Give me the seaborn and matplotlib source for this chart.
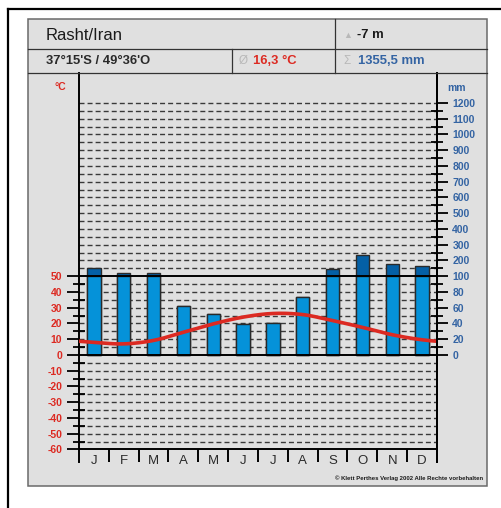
import numpy as np
import pandas as pd
import matplotlib
matplotlib.use("Agg")
import matplotlib.pyplot as plt
import seaborn as sns
from matplotlib.patches import Rectangle
from matplotlib.lines import Line2D

# ---------------- data ----------------
months = ["J", "F", "M", "A", "M", "J", "J", "A", "S", "O", "N", "D"]
temperature = [8.0, 7.0, 9.2, 14.4, 19.7, 24.0, 26.3, 25.6, 21.8, 17.5, 12.8, 9.6]
precipitation = [150, 122, 117, 62, 52, 39, 41, 74, 147, 233, 175, 166]
temp_ticks = [-60, -50, -40, -30, -20, -10, 0, 10, 20, 30, 40, 50]
precip_ticks = [0, 20, 40, 60, 80, 100, 200, 300, 400, 500, 600, 700, 800,
                900, 1000, 1100, 1200]
station = "Rasht/Iran"
coords = "37°15'S / 49°36'O"
elevation = "-7 m"
mean_temp = "16,3 °C"
total_precip = "1355,5 mm"
copyright_text = "© Klett Perthes Verlag 2002 Alle Rechte vorbehalten"

# ---------------- style ----------------
RED = "#dc2a22"
BLUE_TXT = "#3464a3"
LIGHT_BAR = "#0592d9"
DARK_BAR = "#0460a6"
EDGE = "#2a2a2a"
PANEL = "#e0e0e0"
plt.rcParams["font.family"] = ["Liberation Sans", "DejaVu Sans"]

W, H = 502, 508
fig = plt.figure(figsize=(W / 100, H / 100), dpi=100)
fig.patch.set_facecolor("white")


def fx(x):
    return x / W


def fy(y):
    return 1 - y / H


def fline(x0, y0, x1, y1, color="#333333", lw=1.0):
    fig.add_artist(Line2D([fx(x0), fx(x1)], [fy(y0), fy(y1)],
                          transform=fig.transFigure, color=color, lw=lw, zorder=3))


# grey panel (behind the axes)
fig.add_artist(Rectangle((fx(28), fy(486)), (487 - 28) / W, (486 - 19) / H,
                         transform=fig.transFigure, facecolor=PANEL,
                         edgecolor="#6a6a6a", lw=1.1, zorder=-10))
# outer frame
fline(8, 9, 8, 508, color="black", lw=1.6)
fline(8, 9, 502, 9, color="black", lw=1.6)
# header grid
fline(28, 49, 487, 49, lw=0.9)
fline(28, 73, 487, 73, lw=0.9)
fline(335, 19, 335, 73, lw=0.9)
fline(232, 49, 232, 73, lw=0.9)

# header texts
fig.text(fx(46), fy(35), station, fontsize=12, va="center", ha="left", color="#1a1a1a")
fig.text(fx(343), fy(35), "▲", fontsize=6.5, va="center", ha="left", color="#b8b8b8")
fig.text(fx(357), fy(35), elevation, fontsize=9.4, fontweight="bold", va="center",
         ha="left", color="#1a1a1a")
fig.text(fx(46), fy(60.5), coords, fontsize=9.4, fontweight="bold", va="center",
         ha="left", color="#2a2a2a")
fig.text(fx(239), fy(60.5), "Ø", fontsize=8.5, va="center", ha="left", color="#b8b8b8")
fig.text(fx(253), fy(60.5), mean_temp, fontsize=9.4, fontweight="bold", va="center",
         ha="left", color=RED)
fig.text(fx(343), fy(60.5), "Σ", fontsize=8.5, va="center", ha="left", color="#b8b8b8")
fig.text(fx(358), fy(60.5), total_precip, fontsize=9.4, fontweight="bold", va="center",
         ha="left", color=BLUE_TXT)
fig.text(fx(60), fy(87), "°C", fontsize=7.5, fontweight="bold", va="center",
         ha="center", color=RED)
fig.text(fx(457), fy(88), "mm", fontsize=7.5, fontweight="bold", va="center",
         ha="center", color=BLUE_TXT)
fig.text(fx(483), fy(478), copyright_text, fontsize=4.3, fontweight="bold",
         va="center", ha="right", color="#1a1a1a")


# ---------------- axes ----------------
def mm_to_unit(p):
    p = np.asarray(p, dtype=float)
    return np.where(p <= 100, p / 2.0, 50 + (p - 100) / 10.0)


YMIN, YMAX = -68, 179
ax = fig.add_axes([fx(79), fy(462), (437 - 79) / W, (462 - 73) / H])
ax.set_facecolor("none")

df = pd.DataFrame({
    "idx": np.arange(12),
    "month": months,
    "precip": precipitation,
})
df["unit"] = mm_to_unit(df["precip"])
df["unit_low"] = np.minimum(df["unit"], 50)

# dashed grid
for v in range(-55, 161, 5):
    if v in (0, 50):
        continue
    ax.axhline(v, color="#3a3a3a", lw=1.0, ls=(0, (3.6, 2.2)), zorder=1)

sns.barplot(data=df, x="idx", y="unit", color=DARK_BAR, saturation=1,
            edgecolor=EDGE, linewidth=1.0, width=0.45, ax=ax, zorder=3)
sns.barplot(data=df, x="idx", y="unit_low", color=LIGHT_BAR, saturation=1,
            edgecolor=EDGE, linewidth=1.0, width=0.45, ax=ax, zorder=3.5)

for v in (0, 50, -60):
    ax.axhline(v, color="black", lw=1.4, zorder=4)

# smooth periodic temperature curve (Catmull-Rom through monthly values)
t = np.asarray(temperature, dtype=float)
xs_all, ys_all = [], []
for i in range(-1, 12):
    p0, p1, p2, p3 = t[(i - 1) % 12], t[i % 12], t[(i + 1) % 12], t[(i + 2) % 12]
    s = np.linspace(0, 1, 25)
    yv = 0.5 * ((2 * p1) + (-p0 + p2) * s + (2 * p0 - 5 * p1 + 4 * p2 - p3) * s ** 2
                + (-p0 + 3 * p1 - 3 * p2 + p3) * s ** 3)
    xs_all.append(i + s)
    ys_all.append(yv)
xs = np.concatenate(xs_all)
ys = np.concatenate(ys_all)
mask = (xs >= -0.5) & (xs <= 11.5)
curve = pd.DataFrame({"x": xs[mask], "y": ys[mask]}).drop_duplicates("x")
sns.lineplot(data=curve, x="x", y="y", color=RED, lw=2.6, ax=ax, zorder=5,
             sort=False, estimator=None)

# month separators and labels
ax.vlines(np.arange(0.5, 11.5, 1), -68, -60, color="black", lw=1.4, zorder=4)
for i, m in enumerate(months):
    ax.text(i, -67.3, m, ha="center", va="center", fontsize=9.5, color="#2a2a2a",
            clip_on=False)

ax.set_xlim(-0.5, 11.5)
ax.set_ylim(YMIN, YMAX)
ax.set_xticks([])
ax.set_xlabel("")
ax.set_ylabel("")
for s in ("top", "bottom"):
    ax.spines[s].set_visible(False)
for s in ("left", "right"):
    ax.spines[s].set_color("black")
    ax.spines[s].set_linewidth(1.4)

ax.set_yticks(temp_ticks)
ax.set_yticklabels([str(v) for v in temp_ticks])
ax.set_yticks(np.arange(-55, 50, 10), minor=True)
ax.tick_params(axis="y", which="major", direction="out", length=9, width=1.3,
               colors="black", labelcolor=RED, labelsize=7.5, pad=3)
ax.tick_params(axis="y", which="minor", direction="inout", length=9, width=1.3,
               colors="black")
for lab in ax.get_yticklabels():
    lab.set_fontweight("bold")

ax2 = ax.twinx()
ax2.set_ylim(YMIN, YMAX)
ax2.set_yticks(mm_to_unit(precip_ticks))
ax2.set_yticklabels([str(v) for v in precip_ticks])
minor_mm = [10, 30, 50, 70, 90, 150, 250, 350, 450, 550, 650, 750, 850, 950, 1050, 1150]
ax2.set_yticks(mm_to_unit(minor_mm), minor=True)
ax2.tick_params(axis="y", which="major", direction="out", length=8, width=1.3,
                colors="black", labelcolor=BLUE_TXT, labelsize=7.5, pad=3)
ax2.tick_params(axis="y", which="minor", direction="inout", length=9, width=1.3,
                colors="black")
for lab in ax2.get_yticklabels():
    lab.set_fontweight("bold")
for s in ("top", "bottom", "left"):
    ax2.spines[s].set_visible(False)
ax2.spines["right"].set_linewidth(1.4)
ax2.set_xticks([])

fig.savefig("out.png", dpi=100, facecolor="white")
